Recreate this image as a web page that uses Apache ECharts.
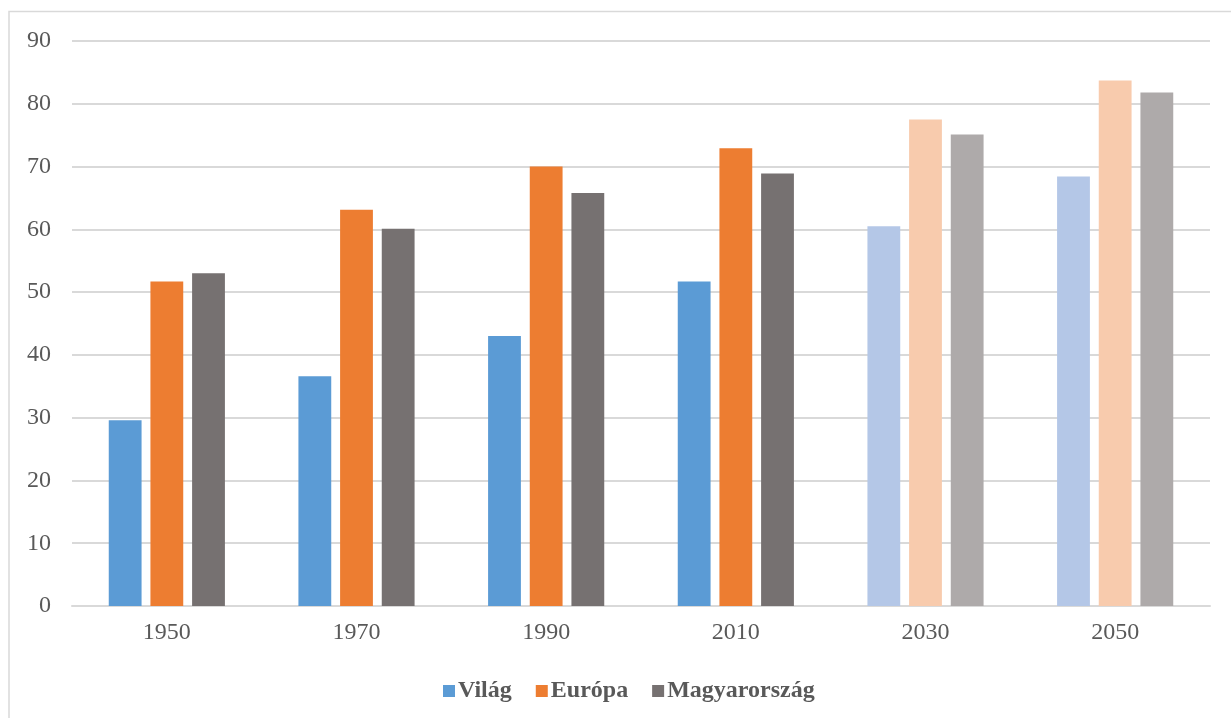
<!DOCTYPE html>
<html>
<head>
<meta charset="utf-8">
<script src="https://cdn.jsdelivr.net/npm/echarts@6/dist/echarts.min.js"></script>
<style>
  html, body { margin: 0; padding: 0; background: #fff; }
  #chart { width: 1231px; height: 718px; }
</style>
</head>
<body>
<div id="chart"></div>
<script>
// Years on the category axis; 2030 and 2050 are projections (drawn lighter)
const years = ['1950', '1970', '1990', '2010', '2030', '2050'];
const projectedFrom = 4;

const seriesNames = ['Világ', 'Európa', 'Magyarország'];
const vilag = [29.6, 36.6, 43.0, 51.7, 60.5, 68.4];
const europa = [51.7, 63.1, 70.0, 72.9, 77.5, 83.7];
const magyarorszag = [53.0, 60.1, 65.8, 68.9, 75.1, 81.8];

const yTicks = { min: 0, max: 90, interval: 10 };

const baseColors = ['#5B9BD5', '#ED7D31', '#767171'];
const lightColors = ['#B4C7E7', '#F8CBAD', '#AEAAAA'];

const font = '"Liberation Serif", "Times New Roman", serif';

function makeSeries(name, values, idx) {
  return {
    name: name,
    type: 'bar',
    barWidth: '17.3%',
    barGap: '27%',
    itemStyle: { color: baseColors[idx] },
    data: values.map((v, i) => i >= projectedFrom
      ? { value: v, itemStyle: { color: lightColors[idx] } }
      : v)
  };
}

const chart = echarts.init(document.getElementById('chart'), null, { renderer: 'canvas' });
chart.setOption({
  animation: false,
  backgroundColor: '#fff',
  textStyle: { fontFamily: font },
  graphic: [{
    type: 'rect',
    shape: { x: 9, y: 11.5, width: 1240, height: 720 },
    style: { fill: 'none', stroke: '#D9D9D9', lineWidth: 1.5 },
    silent: true
  }],
  grid: { left: 72, right: 21, top: 41, bottom: 112 },
  legend: {
    data: seriesNames,
    left: 438,
    top: 674,
    icon: 'rect',
    itemWidth: 12,
    itemHeight: 12,
    itemGap: 24,
    textStyle: { fontFamily: font, fontSize: 24, fontWeight: 'bold', color: '#595959', padding: [0, 0, 0, -2] }
  },
  xAxis: {
    type: 'category',
    data: years,
    axisLine: { lineStyle: { color: '#D9D9D9', width: 2 } },
    axisTick: { show: false },
    axisLabel: { fontFamily: font, fontSize: 24, color: '#595959', margin: 15 }
  },
  yAxis: {
    type: 'value',
    min: yTicks.min,
    max: yTicks.max,
    interval: yTicks.interval,
    axisLine: { show: false },
    axisTick: { show: false },
    splitLine: { lineStyle: { color: '#D9D9D9', width: 2 } },
    axisLabel: { fontFamily: font, fontSize: 24, color: '#595959', margin: 21 }
  },
  series: [
    makeSeries(seriesNames[0], vilag, 0),
    makeSeries(seriesNames[1], europa, 1),
    makeSeries(seriesNames[2], magyarorszag, 2)
  ]
});
</script>
</body>
</html>
